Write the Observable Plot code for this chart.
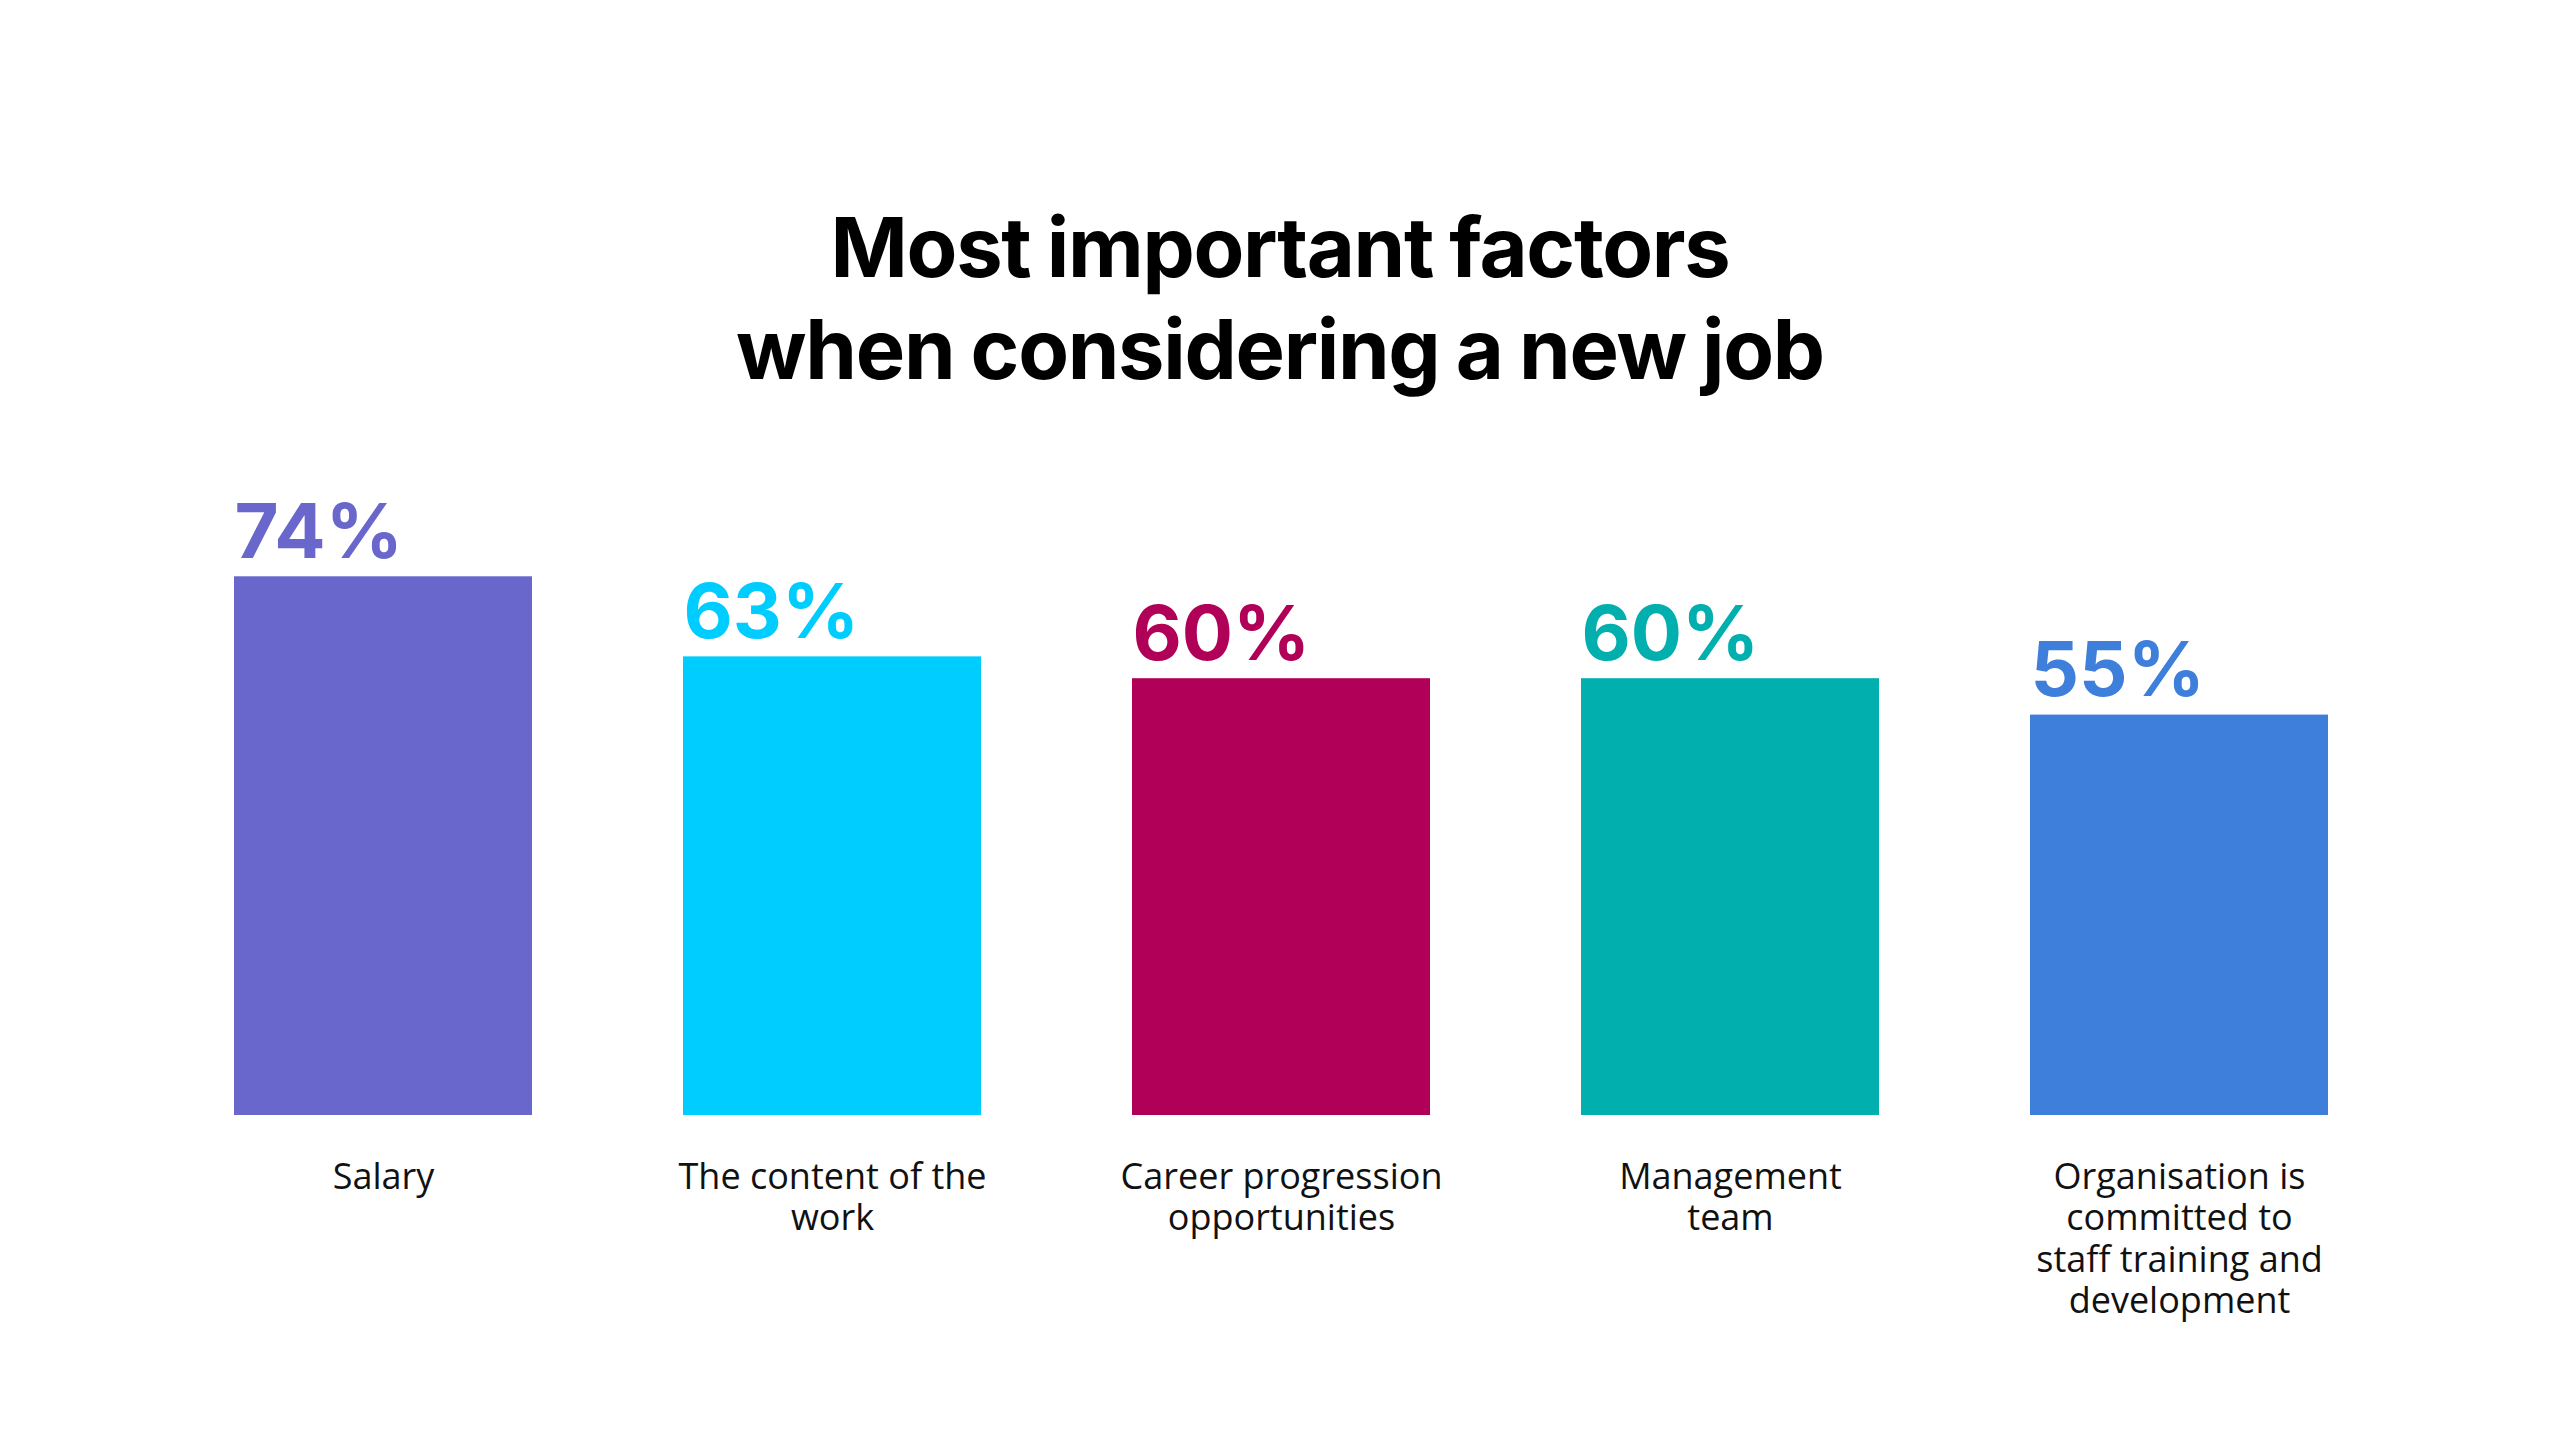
<!DOCTYPE html>
<html>
<head>
<meta charset="utf-8">
<script src="https://cdn.jsdelivr.net/npm/d3@7"></script>
<script src="https://cdn.jsdelivr.net/npm/@observablehq/plot@0.6"></script>
<style>
  html, body { margin: 0; padding: 0; background: #ffffff; }
  #page { position: relative; width: 2560px; height: 1440px; overflow: hidden; background: #fff; }
  #title {
    position: absolute; left: 0; top: 196px; width: 2560px;
    text-align: center; font-family: Inter, sans-serif; font-weight: 700;
    font-size: 83px; line-height: 102px; color: #000; letter-spacing: -1.3px; word-spacing: -2px;
  }
  #chart { position: absolute; left: 0; top: 420px; }
</style>
</head>
<body>
<div id="page">
  <div id="title">Most important factors<br>when considering a new job</div>
  <div id="chart"></div>
</div>
<script>
const categories = [
  "Salary",
  "The content of the work",
  "Career progression opportunities",
  "Management team",
  "Organisation is committed to staff training and development"
];
const tickLabels = [
  "Salary",
  "The content of the\nwork",
  "Career progression\nopportunities",
  "Management\nteam",
  "Organisation is\ncommitted to\nstaff training and\ndevelopment"
];
const values = [74, 63, 60, 60, 55];
const colors = ["#6967CB", "#00CDFF", "#B00058", "#00AFAE", "#3D7FDB"];

const data = categories.map((c, i) => ({category: c, label: tickLabels[i], value: values[i], color: colors[i]}));

const chart = Plot.plot({
  width: 2560,
  height: 1020,
  marginLeft: 158,
  marginRight: 155,
  marginTop: 112.6,
  marginBottom: 325,
  x: {domain: categories, paddingInner: 0.336, paddingOuter: 0.168, axis: null},
  y: {domain: [0, 80], axis: null},
  style: {background: "transparent", overflow: "visible"},
  marks: [
    Plot.barY(data, {x: "category", y: "value", fill: "color"}),
    Plot.text(data, {
      x: "category", y: "value", text: d => d.value + "%", fill: "color",
      textAnchor: "start", lineAnchor: "bottom", dx: -149, dy: -19,
      fontSize: 76, fontWeight: 700, fontFamily: "Inter, sans-serif"
    }),
    Plot.text(data, {
      x: "category", y: () => 0, text: "label", fill: "#111",
      textAnchor: "middle", lineAnchor: "top", dy: 44, lineHeight: 1.15,
      fontSize: 36, fontFamily: "'Open Sans', sans-serif"
    })
  ]
});
document.getElementById("chart").appendChild(chart);
</script>
</body>
</html>
